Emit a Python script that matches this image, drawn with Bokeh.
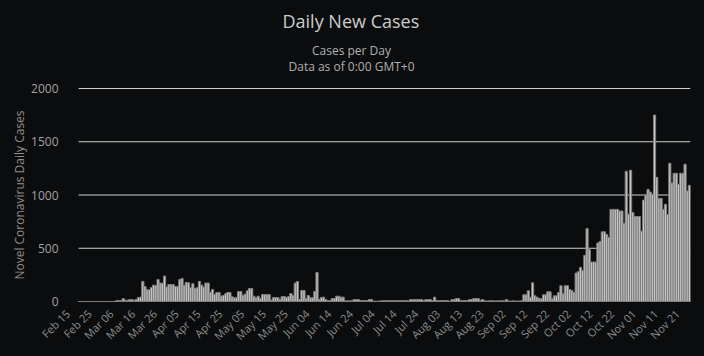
import math
import pandas as pd
from bokeh.plotting import figure
from bokeh.models import ColumnDataSource, FixedTicker, Range1d, Title, LinearAxis
from bokeh.embed import file_html
from bokeh.resources import INLINE

start_date = "2020-02-15"

daily_cases = [
    0, 0, 0, 0, 0, 0, 0, 0, 0, 0, 0, 0, 0, 0, 0, 0, 0,
    9, 9, 9, 28, 12, 12, 19, 19, 12, 19, 38, 41,
    189, 141, 110, 110, 132, 154, 150, 207, 173, 173, 239, 135, 160, 160, 158, 141, 140, 207, 217, 151, 179, 175,
    129, 167, 123, 129, 189, 154, 135, 173, 173, 88, 113, 66, 85, 85, 50, 57, 72, 85, 85, 44,
    35, 35, 94, 94, 57, 69, 100, 122, 122, 50, 35, 50, 28, 66, 66, 66, 66, 13, 38, 38,
    38, 22, 47, 47, 38, 47, 75, 57, 173, 188, 19, 104, 104, 28, 57, 35, 35, 94, 273, 19, 38,
    41, 19, 9, 9, 28, 28, 50, 50, 41, 41, 6, 6, 6, 6, 19, 19, 19, 9, 9, 9, 9, 19, 19, 3, 3, 3,
    5, 8, 9, 6, 9, 7, 9, 8, 6, 9, 7, 8, 9, 6,
    19, 17, 19, 18, 19, 19, 9, 19, 19, 19, 9, 41, 9, 9, 9, 9, 9, 9, 0, 19, 19, 28, 28,
    9, 9, 9, 9, 19, 19, 28, 28, 28, 9, 19, 6, 5, 6, 7, 6, 5, 6, 6, 7, 6, 19, 5, 4, 6, 5, 4, 5, 6,
    63, 63, 100, 41, 176, 55, 41, 30, 25, 63, 63, 91, 91, 25, 53, 53, 85, 148, 72, 148,
    148, 113, 104, 85, 267, 280, 320, 290, 434, 685,
    487, 371, 371, 371, 550, 563, 654, 654, 629, 600,
    865, 865, 865, 865, 850, 850, 735, 1223, 820, 1232,
    836, 798, 798, 798, 660, 952, 1000, 1053, 1028, 1006,
    1751, 1166, 968, 968, 865, 912, 817, 1298, 1113, 1204,
    1204, 1100, 1204, 1204, 1289, 1038, 1091,
]

tick_labels = ["Feb 15", "Feb 25", "Mar 06", "Mar 16", "Mar 26", "Apr 05", "Apr 15",
               "Apr 25", "May 05", "May 15", "May 25", "Jun 04", "Jun 14", "Jun 24",
               "Jul 04", "Jul 14", "Jul 24", "Aug 03", "Aug 13", "Aug 23", "Sep 02",
               "Sep 12", "Sep 22", "Oct 02", "Oct 12", "Oct 22", "Nov 01", "Nov 11", "Nov 21"]
y_ticks = [0, 500, 1000, 1500, 2000]

title_text = "Daily New Cases"
subtitle_lines = ["Cases per Day", "Data as of 0:00 GMT+0"]
y_label = "Novel Coronavirus Daily Cases"

dates = pd.date_range(start_date, periods=len(daily_cases))
date_labels = [d.strftime("%b %d") for d in dates]
idx = list(range(len(daily_cases)))
tick_pos = [i for i, lab in enumerate(date_labels) if lab in tick_labels]

src = ColumnDataSource(dict(x=idx, cases=daily_cases, date=date_labels))

BG = "#0b0c0e"
GRID = "#cfcfcf"
FONT = "Open Sans"
N = len(daily_cases)
Y_MAX = 2000
PAD_Y = Y_MAX / 213.0      # one pixel of headroom above 2000 and below 0
LEFT_PAD = 6               # empty day-slots left of the first bar (room for the first date label)
LABEL_SHIFT = 5.5          # rotated date labels end just left of their day, as in the original

p = figure(width=704, height=356, output_backend="svg", toolbar_location=None,
           x_range=Range1d(-0.5 - LEFT_PAD, N - 0.5),
           y_range=Range1d(-PAD_Y, Y_MAX + PAD_Y),
           x_axis_location=None,
           min_border_left=65, min_border_right=14, min_border_top=87, min_border_bottom=54,
           background_fill_color=BG, border_fill_color=None,
           styles={"background-color": BG})
p.outline_line_color = None
p.xgrid.visible = False
p.ygrid.visible = False

# horizontal grid lines spanning the days only
p.segment(x0=[-0.5] * len(y_ticks), x1=[N - 0.5] * len(y_ticks), y0=y_ticks, y1=y_ticks,
          line_color=GRID, line_width=1)

p.vbar(x="x", top="cases", bottom=0, width=1.0, source=src,
       fill_color="#c6c6c6", line_color="#7c7c7c", line_width=1)

p.yaxis.ticker = FixedTicker(ticks=y_ticks)
p.yaxis.axis_line_color = None
p.yaxis.major_tick_line_color = None
p.yaxis.minor_tick_line_color = None
p.yaxis.major_label_standoff = 1
p.yaxis.major_label_text_color = "#a3a3a3"
p.yaxis.major_label_text_font = FONT
p.yaxis.major_label_text_font_size = "12px"
p.yaxis.axis_label = y_label
p.yaxis.axis_label_text_font = FONT
p.yaxis.axis_label_text_font_size = "12px"
p.yaxis.axis_label_text_font_style = "normal"
p.yaxis.axis_label_text_color = "#8f8f8f"
p.yaxis.axis_label_standoff = 0

p.extra_x_ranges = {"dates": Range1d(-0.5 - LEFT_PAD + LABEL_SHIFT, N - 0.5 + LABEL_SHIFT)}
xaxis = LinearAxis(x_range_name="dates", ticker=FixedTicker(ticks=tick_pos),
                   major_label_overrides={i: date_labels[i] for i in tick_pos},
                   major_label_orientation=math.pi / 4,
                   axis_line_color=None, major_tick_line_color=None, minor_tick_line_color=None,
                   major_label_standoff=3, major_label_text_color="#8c8c8c",
                   major_label_text_font=FONT, major_label_text_font_size="11px")
p.add_layout(xaxis, "below")

# stacked titles: items added to "above" stack outward from the frame.
# left-aligned with offsets so that each line is centred on the whole chart (x = 350)
p.add_layout(Title(text=" ", text_font_size="2px", text_color=BG, standoff=8.8), "above")
p.add_layout(Title(text=subtitle_lines[1], align="left", offset=223, text_font=FONT,
                   text_font_size="12px", text_font_style="normal", text_color="#b0b0b0",
                   standoff=0), "above")
p.add_layout(Title(text=subtitle_lines[0], align="left", offset=246.5, text_font=FONT,
                   text_font_size="12px", text_font_style="normal", text_color="#b0b0b0",
                   standoff=-6.6), "above")
p.title.text = title_text
p.title.align = "left"
p.title.offset = 217
p.title.vertical_align = "top"
p.title.text_font = FONT
p.title.text_font_size = "18px"
p.title.text_font_style = "normal"
p.title.text_color = "#cccccc"
p.title.standoff = 16.5

open("out.html", "w").write(file_html(p, INLINE))
